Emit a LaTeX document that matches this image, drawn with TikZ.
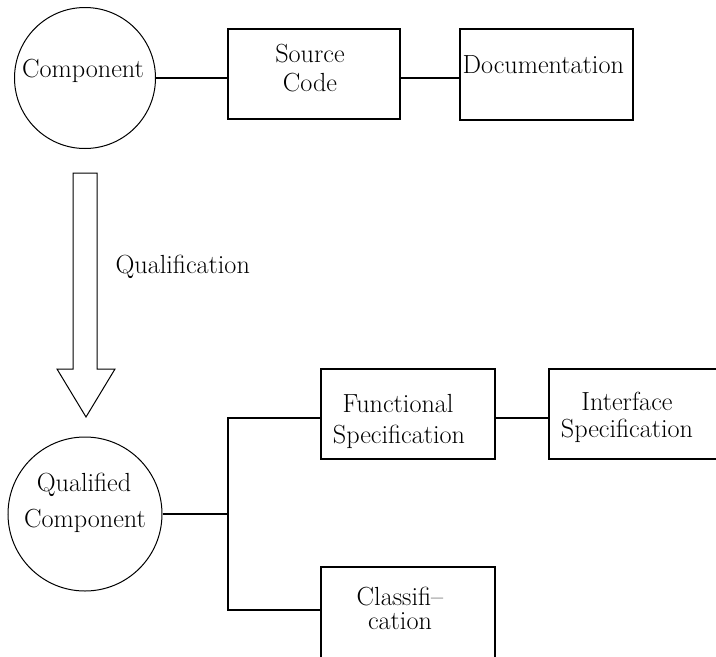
\documentclass[tikz,border=0pt]{standalone}
\begin{document}
\begin{tikzpicture}[x=1pt,y=-1pt,line width=1.1pt,
  lbl/.style={font=\fontsize{26.2}{32}\selectfont,inner sep=0pt,anchor=base},
  blob/.style={circle,draw,line width=1pt,inner sep=0pt},
  box/.style={rectangle,draw,line width=1.2pt,inner sep=0pt},
  link/.style={line width=1.2pt}]
\clip (0,0) rectangle (716,657);

% top row: component and its parts
\node[blob,minimum size=141pt] (comp) at (85,78) {};
\node[lbl] (compA) at (83,77) {Component};
\node[box,minimum width=172pt,minimum height=90pt] (src) at (314,74) {};
\node[lbl] (srcA) at (310,62) {Source};
\node[lbl] (srcB) at (310,91) {Code};
\node[box,minimum width=173pt,minimum height=91pt] (doc) at (546.5,74.5) {};
\node[lbl,anchor=base west] (docA) at (462,73) {Documentation};
\draw[link] (comp.east) -- (comp.east -| src.west);
\draw[link] (src.east |- comp.east) -- (doc.west |- comp.east);

% qualification arrow
\draw[line width=1pt] (73,173) -- (97,173) -- (97,369) -- (115,369) -- (86,417)
  -- (57,369) -- (73,369) -- cycle;
\node[lbl,anchor=base west] (qual) at (115,273) {Qualification};

% bottom row: qualified component and its parts
\node[blob,minimum size=154pt] (qc) at (85,514) {};
\node[lbl] (qcA) at (84,491) {Qualified};
\node[lbl] (qcB) at (85,527) {Component};

\node[box,minimum width=174pt,minimum height=90pt] (func) at (408,414) {};
\node[lbl] (funcA) at (398,412) {Functional};
\node[lbl] (funcB) at (399,443) {Specification};

\node[box,minimum width=174pt,minimum height=90pt] (iface) at (636,414) {};
\node[lbl] (ifaceA) at (627,410) {Interface};
\node[lbl] (ifaceB) at (627,437) {Specification};

\node[box,minimum width=174pt,minimum height=140pt] (cls) at (408,637) {};
\node[lbl] (clsA) at (400,605) {Classifi--};
\node[lbl] (clsB) at (400,629) {cation};

\coordinate (jt) at (228,418);
\coordinate (jb) at (228,610);
\draw[link] (qc.east) -- (qc.east -| jt);
\draw[link] (jt -| func.west) -- (jt) -- (jb) -- (jb -| cls.west);
\draw[link] (func.east |- jt) -- (iface.west |- jt);
\end{tikzpicture}
\end{document}
